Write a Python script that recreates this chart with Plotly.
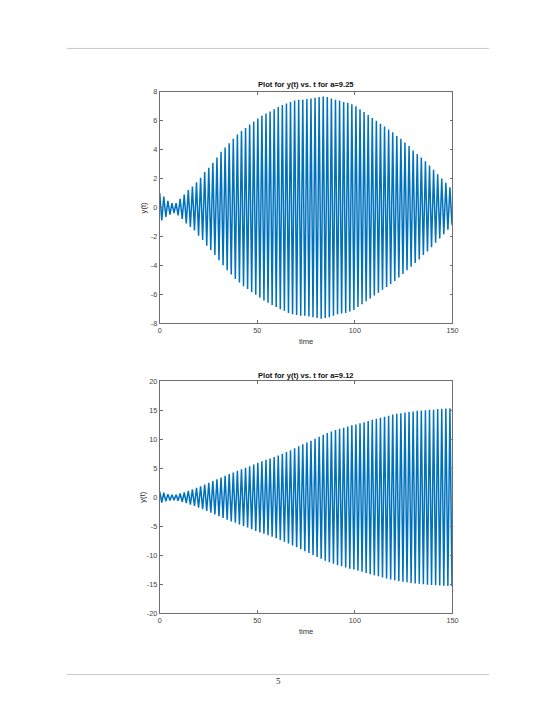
import plotly.graph_objects as go

# Times of successive extrema (max/min alternate), plus the end time
t_ext = [0.0, 1.05, 2.09, 3.14, 4.19, 5.24, 6.28, 7.33, 8.38, 9.42,
         10.47, 11.52, 12.57, 13.61, 14.66, 15.71, 16.76, 17.80, 18.85, 19.90,
         20.94, 21.99, 23.04, 24.09, 25.13, 26.18, 27.23, 28.27, 29.32, 30.37,
         31.42, 32.46, 33.51, 34.56, 35.60, 36.65, 37.70, 38.75, 39.79, 40.84,
         41.89, 42.94, 43.98, 45.03, 46.08, 47.12, 48.17, 49.22, 50.27, 51.31,
         52.36, 53.41, 54.45, 55.50, 56.55, 57.60, 58.64, 59.69, 60.74, 61.78,
         62.83, 63.88, 64.93, 65.97, 67.02, 68.07, 69.12, 70.16, 71.21, 72.26,
         73.30, 74.35, 75.40, 76.45, 77.49, 78.54, 79.59, 80.63, 81.68, 82.73,
         83.78, 84.82, 85.87, 86.92, 87.96, 89.01, 90.06, 91.11, 92.15, 93.20,
         94.25, 95.29, 96.34, 97.39, 98.44, 99.48, 100.53, 101.58, 102.63, 103.67,
         104.72, 105.77, 106.81, 107.86, 108.91, 109.96, 111.00, 112.05, 113.10, 114.14,
         115.19, 116.24, 117.29, 118.33, 119.38, 120.43, 121.47, 122.52, 123.57, 124.62,
         125.66, 126.71, 127.76, 128.81, 129.85, 130.90, 131.95, 132.99, 134.04, 135.09,
         136.14, 137.18, 138.23, 139.28, 140.32, 141.37, 142.42, 143.47, 144.51, 145.56,
         146.61, 147.65, 148.70, 149.75, 150.0]

# y(t) extrema for a = 9.25
y_a925 = [1.0, -0.9, 0.75, -0.65, 0.45, -0.5, 0.3, -0.4, 0.3, -0.55,
          0.6, -0.8, 0.9, -1.1, 1.2, -1.35, 1.45, -1.6, 1.75, -1.95,
          2.05, -2.25, 2.45, -2.65, 2.75, -2.95, 3.1, -3.3, 3.45, -3.65,
          3.85, -4.0, 4.15, -4.35, 4.45, -4.65, 4.75, -4.95, 5.05, -5.2,
          5.3, -5.45, 5.5, -5.65, 5.75, -5.85, 5.95, -6.05, 6.15, -6.25,
          6.35, -6.45, 6.5, -6.6, 6.65, -6.75, 6.8, -6.9, 6.95, -7.05,
          7.1, -7.15, 7.2, -7.3, 7.3, -7.4, 7.4, -7.45, 7.45, -7.5,
          7.45, -7.5, 7.5, -7.55, 7.55, -7.6, 7.6, -7.65, 7.65, -7.7,
          7.68, -7.65, 7.65, -7.6, 7.55, -7.5, 7.45, -7.4, 7.4, -7.35,
          7.3, -7.3, 7.25, -7.2, 7.15, -7.1, 7.0, -6.9, 6.8, -6.7,
          6.6, -6.5, 6.4, -6.3, 6.2, -6.1, 6.0, -5.9, 5.8, -5.7,
          5.6, -5.5, 5.4, -5.3, 5.2, -5.1, 4.95, -4.85, 4.75, -4.6,
          4.5, -4.35, 4.25, -4.1, 3.95, -3.85, 3.7, -3.6, 3.45, -3.3,
          3.2, -3.05, 2.9, -2.75, 2.6, -2.45, 2.3, -2.15, 2.0, -1.85,
          1.7, -1.55, 1.4, -1.2, -1.1]

# y(t) extrema for a = 9.12
y_a912 = [1.0, -0.9, 0.8, -0.7, 0.55, -0.55, 0.45, -0.5, 0.45, -0.6,
          0.65, -0.8, 0.85, -1.0, 1.1, -1.25, 1.35, -1.5, 1.65, -1.8,
          1.9, -2.05, 2.2, -2.35, 2.5, -2.65, 2.8, -2.95, 3.1, -3.25,
          3.4, -3.55, 3.7, -3.85, 4.0, -4.15, 4.25, -4.4, 4.55, -4.7,
          4.85, -4.95, 5.1, -5.2, 5.35, -5.5, 5.65, -5.8, 5.95, -6.05,
          6.2, -6.3, 6.45, -6.55, 6.7, -6.8, 6.95, -7.05, 7.2, -7.35,
          7.5, -7.65, 7.8, -7.95, 8.1, -8.3, 8.45, -8.6, 8.8, -8.95,
          9.15, -9.3, 9.45, -9.6, 9.75, -9.95, 10.1, -10.3, 10.45, -10.6,
          10.8, -10.95, 11.1, -11.2, 11.35, -11.45, 11.6, -11.7, 11.8, -11.9,
          12.0, -12.1, 12.2, -12.3, 12.4, -12.45, 12.55, -12.65, 12.75, -12.85,
          12.95, -13.05, 13.15, -13.25, 13.35, -13.45, 13.55, -13.6, 13.7, -13.8,
          13.9, -14.0, 14.05, -14.15, 14.25, -14.3, 14.4, -14.45, 14.5, -14.55,
          14.6, -14.65, 14.7, -14.75, 14.8, -14.85, 14.9, -14.9, 14.95, -15.0,
          15.0, -15.05, 15.1, -15.1, 15.1, -15.15, 15.2, -15.2, 15.25, -15.25,
          15.3, -15.3, 15.35, -15.35, -14.8]

x_ticks = [0, 50, 100, 150]
x_tick_text = ["0", "50", "100", "150"]
y1_ticks = [-8, -6, -4, -2, 0, 2, 4, 6, 8]
y1_tick_text = ["-8", "-6", "-4", "-2", "0", "2", "4", "6", "8"]
y2_ticks = [-20, -15, -10, -5, 0, 5, 10, 15, 20]
y2_tick_text = ["-20", "-15", "-10", "-5", "0", "5", "10", "15", "20"]

title1 = "Plot for y(t) vs. t for a=9.25"
title2 = "Plot for y(t) vs. t for a=9.12"

W, H = 560, 725
LINE = "#0072BD"
AX = "#6e6e6e"
FONT = "Liberation Sans, Arial, sans-serif"

fig = go.Figure()
fig.add_trace(go.Scatter(x=t_ext, y=y_a925, mode="lines",
                         line=dict(color=LINE, width=1.5),
                         xaxis="x", yaxis="y", showlegend=False))
fig.add_trace(go.Scatter(x=t_ext, y=y_a912, mode="lines",
                         line=dict(color=LINE, width=1.5),
                         xaxis="x2", yaxis="y2", showlegend=False))

def px(x):
    return x / W

def py(y):
    return 1 - y / H

axis_common = dict(showgrid=False, zeroline=False, showline=True, mirror="ticks",
                   linecolor=AX, linewidth=0.8, ticks="inside", ticklen=3,
                   tickcolor=AX, tickwidth=0.8,
                   tickfont=dict(family=FONT, size=7.3, color="#444444"))

x_dom = [px(160), px(457)]
fig.update_layout(
    width=W, height=H,
    margin=dict(l=0, r=0, t=0, b=0),
    paper_bgcolor="white", plot_bgcolor="white",
    xaxis=dict(domain=x_dom, range=[0, 150], tickvals=x_ticks, ticktext=x_tick_text,
               anchor="y", **axis_common),
    yaxis=dict(domain=[py(323), py(89)], range=[-8, 8], tickvals=y1_ticks,
               ticktext=y1_tick_text, anchor="x", **axis_common),
    xaxis2=dict(domain=x_dom, range=[0, 150], tickvals=x_ticks, ticktext=x_tick_text,
                anchor="y2", **axis_common),
    yaxis2=dict(domain=[py(617), py(382)], range=[-20, 20], tickvals=y2_ticks,
                ticktext=y2_tick_text, anchor="x2", **axis_common),
)

ann = []
def text(x, y, s, size, bold=False, angle=0, color="#222222", family=FONT):
    ann.append(dict(x=px(x), y=py(y), xref="paper", yref="paper", text=("<b>%s</b>" % s) if bold else s,
                    showarrow=False, xanchor="center", yanchor="middle", textangle=angle,
                    font=dict(family=family, size=size, color=color)))

text(308, 82, title1, 7.6, bold=True, color="#111111")
text(308, 342, "time", 7.6, color="#333333")
text(143, 206, "y(t)", 7.6, angle=-90, color="#333333")
text(308, 376, title2, 7.6, bold=True, color="#111111")
text(308, 635, "time", 7.6, color="#333333")
text(143, 499, "y(t)", 7.6, angle=-90, color="#333333")
text(280, 686, "5", 9, color="#222222", family="Liberation Serif, Times New Roman, serif")

shapes = [
    dict(type="line", xref="paper", yref="paper", x0=px(66), x1=px(494), y0=py(45), y1=py(45),
         line=dict(color="#c8c8c8", width=1)),
    dict(type="line", xref="paper", yref="paper", x0=px(66), x1=px(494), y0=py(679), y1=py(679),
         line=dict(color="#c8c8c8", width=1)),
]
fig.update_layout(annotations=ann, shapes=shapes)

fig.write_html("out.html", config={"displayModeBar": False})
